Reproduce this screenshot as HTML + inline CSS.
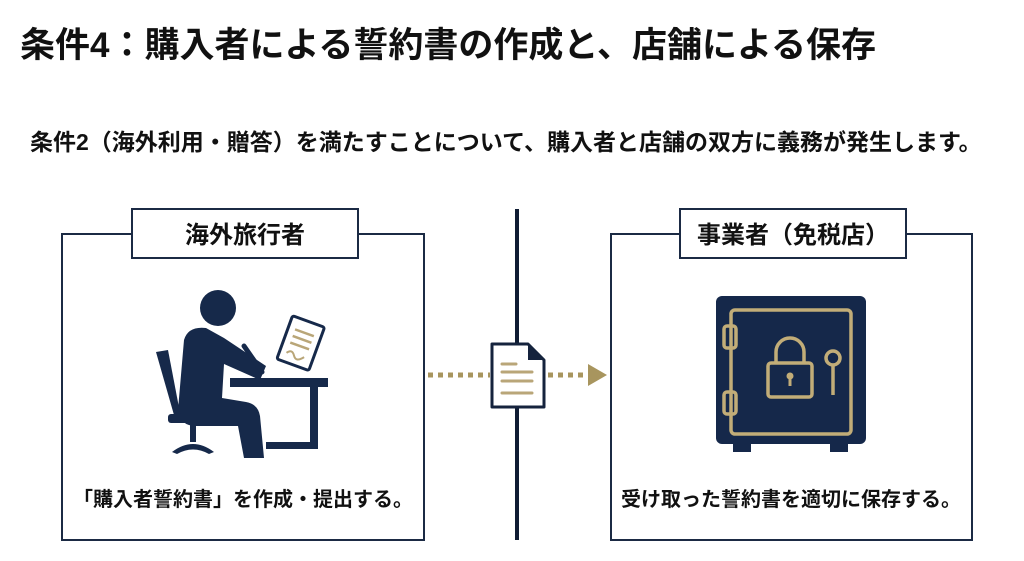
<!DOCTYPE html>
<html><head><meta charset="utf-8"><style>
body{margin:0;width:1024px;height:561px;background:#fff;overflow:hidden;font-family:"Liberation Sans","Noto Sans CJK JP",sans-serif;color:#111;position:relative}
.t{position:absolute;font-weight:bold;white-space:nowrap}
</style></head><body>
<div class="t" style="left:20px;top:17px;font-size:35px;">条件4：購入者による誓約書の作成と、店舗による保存</div>
<div class="t" style="left:30px;top:123px;font-size:23px;">条件2（海外利用・贈答）を満たすことについて、購入者と店舗の双方に義務が発生します。</div>
<svg width="1024" height="561" style="position:absolute;left:0;top:0">
<g fill="none" stroke="#1b2a44" stroke-width="2">
<rect x="62" y="234" width="362" height="306"/>
<rect x="611" y="234" width="361" height="306"/>
</g>
<rect x="132" y="209" width="226" height="49" fill="#fff" stroke="#1b2a44" stroke-width="2"/>
<rect x="680" y="209" width="226" height="49" fill="#fff" stroke="#1b2a44" stroke-width="2"/>
<rect x="515" y="209" width="4" height="331" fill="#0f1c33"/>
<text x="245" y="243" font-size="24" font-weight="bold" text-anchor="middle" fill="#111">海外旅行者</text>
<text x="793" y="243" font-size="24" font-weight="bold" text-anchor="middle" fill="#111">事業者（免税店）</text>
<line x1="428" y1="375" x2="490" y2="375" stroke="#a8955e" stroke-width="5" stroke-dasharray="5 5"/>
<line x1="548" y1="375" x2="592" y2="375" stroke="#a8955e" stroke-width="5" stroke-dasharray="5 5"/>
<polygon points="588,364 607,375 588,386" fill="#a8955e"/>
<path d="M492,344 H528 L544,360 V407 H492 Z" fill="#fff" stroke="#15233d" stroke-width="3" stroke-linejoin="round"/>
<path d="M528,344 V360 H544 Z" fill="#15233d"/>
<g stroke="#b9a678" stroke-width="3" stroke-linecap="round">
<line x1="502" y1="364" x2="516" y2="364"/><line x1="502" y1="372" x2="532" y2="372"/><line x1="502" y1="381" x2="532" y2="381"/><line x1="502" y1="393" x2="532" y2="393"/>
</g>
<g fill="#16294a">
<circle cx="218" cy="308" r="18"/>
<path d="M184,340 Q188,326 206,328 L224,338 L266,366 L260,380 L224,364 L222,398 L246,402 Q258,404 260,416 L264,458 L244,458 L238,426 L196,426 Q180,426 178,410 Z"/>
<rect x="230" y="378" width="98" height="9"/>
<rect x="310" y="378" width="8" height="70"/>
<rect x="266" y="442" width="52" height="7"/>
<path d="M156,352 L168,350 L181,418 L176,422 Z"/>
<rect x="168" y="414" width="50" height="9" rx="3"/>
<rect x="190" y="420" width="6" height="22"/>
<path d="M172,452 Q193,436 214,452 L209,454 Q193,445 177,454Z"/>
</g>
<path d="M244,346 L262,372" stroke="#16294a" stroke-width="5" stroke-linecap="round"/>
<g transform="rotate(20 300 345)">
<rect x="283" y="320" width="34" height="46" rx="2" fill="#fff" stroke="#16294a" stroke-width="3"/>
<g stroke="#b9a678" stroke-width="2.5"><line x1="290" y1="332" x2="310" y2="332"/><line x1="290" y1="339" x2="310" y2="339"/><line x1="290" y1="346" x2="310" y2="346"/></g>
<path d="M290,357 q4,-6 8,0 q4,6 10,-2" stroke="#b9a678" stroke-width="2" fill="none"/>
</g>
<rect x="716" y="296" width="150" height="148" rx="6" fill="#15284a"/>
<rect x="733" y="442" width="18" height="10" fill="#15284a"/><rect x="830" y="442" width="18" height="10" fill="#15284a"/>
<g fill="none" stroke="#c2ad78" stroke-width="3.5">
<rect x="731" y="310" width="120" height="124" rx="4"/>
<rect x="724" y="326" width="12" height="22" rx="3"/>
<rect x="724" y="392" width="12" height="22" rx="3"/>
<rect x="768" y="363" width="44" height="34" rx="3"/>
<path d="M776,363 V352 a14,14 0 0 1 28,0 V363"/>
<circle cx="833" cy="358" r="7"/>
<line x1="833" y1="365" x2="833" y2="395"/>
</g>
<circle cx="790" cy="376" r="3.5" fill="#c2ad78"/><rect x="788.5" y="377" width="3" height="9" fill="#c2ad78"/>
<text x="243" y="506" font-size="20" font-weight="bold" text-anchor="middle" fill="#111">「購入者誓約書」を作成・提出する。</text>
<text x="791" y="506" font-size="20" font-weight="bold" text-anchor="middle" fill="#111">受け取った誓約書を適切に保存する。</text>
</svg>
</body></html>
